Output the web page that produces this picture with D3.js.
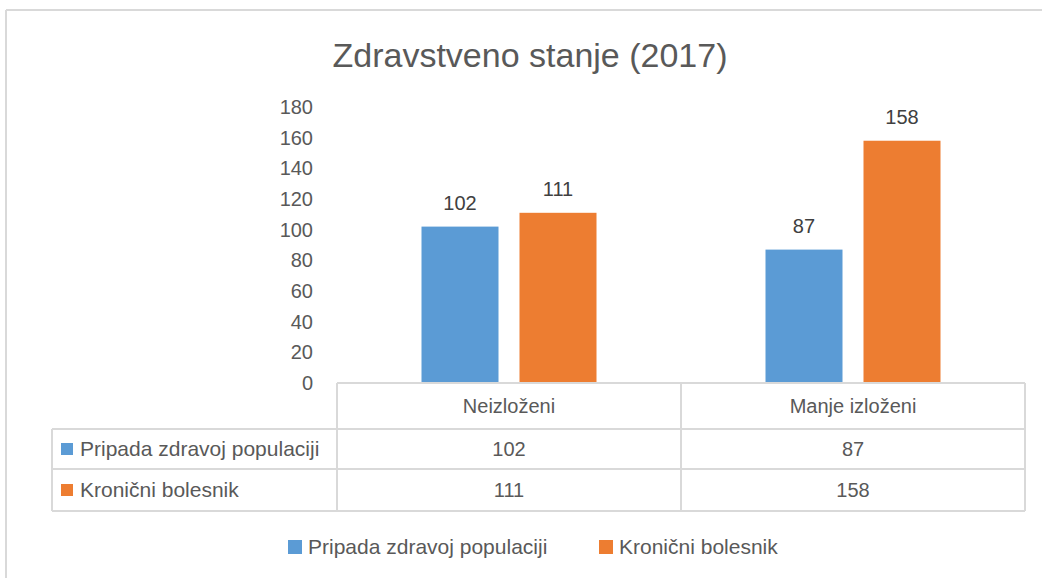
<!DOCTYPE html>
<html>
<head>
<meta charset="utf-8">
<script src="https://cdn.jsdelivr.net/npm/d3@7"></script>
<style>
  body { margin: 0; background: #fff; }
  svg text { font-family: "Liberation Sans", Arial, sans-serif; fill: #595959; }
</style>
</head>
<body>
<svg id="chart"></svg>
<script>
// chart values
var categories = ['Neizloženi', 'Manje izloženi'];
var seriesNames = ['Pripada zdravoj populaciji', 'Kronični bolesnik'];
var zdravi = [102, 87];
var kronicni = [111, 158];
var yTicks = [0, 20, 40, 60, 80, 100, 120, 140, 160, 180];

var colors = {
  'Pripada zdravoj populaciji': '#5B9BD5',
  'Kronični bolesnik': '#ED7D31'
};

var W = 1042, H = 578;
var plot = { left: 337, right: 1025, top: 107, bottom: 383 };
// table row edges
var rowY = [383, 429, 469, 511];
var tableLeft = 52;
var lineColor = '#D9D9D9';

var svg = d3.select('#chart')
  .attr('width', W)
  .attr('height', H);

// outer frame (only top and left edges are in the picture)
svg.append('line')
  .attr('x1', 6).attr('x2', W).attr('y1', 10).attr('y2', 10)
  .attr('stroke', lineColor).attr('stroke-width', 2);
svg.append('line')
  .attr('x1', 6).attr('x2', 6).attr('y1', 10).attr('y2', H)
  .attr('stroke', lineColor).attr('stroke-width', 2);

// title
svg.append('text')
  .attr('x', 530)
  .attr('y', 67)
  .attr('text-anchor', 'middle')
  .style('font-size', '34px')
  .text('Zdravstveno stanje (2017)');

var data = categories.map(function(c, i) {
  return { category: c, values: [zdravi[i], kronicni[i]] };
});

var x0 = d3.scaleBand()
  .domain(categories)
  .range([plot.left, plot.right]);

var groupW = 175;
var x1 = d3.scaleBand()
  .domain(seriesNames)
  .range([x0.bandwidth() / 2 - groupW / 2, x0.bandwidth() / 2 + groupW / 2])
  .paddingInner(0.2143);

var y = d3.scaleLinear()
  .domain([0, 180])
  .range([plot.bottom, plot.top]);

// y axis, labels only
var yAxis = svg.append('g')
  .attr('transform', 'translate(' + plot.left + ',0)')
  .call(d3.axisLeft(y).tickValues(yTicks).tickSize(0).tickPadding(24));
yAxis.select('.domain').remove();
yAxis.selectAll('text')
  .style('font-size', '20px')
  .style('font-family', '"Liberation Sans", Arial, sans-serif')
  .attr('fill', '#595959');

// bars
var groups = svg.selectAll('g.cat')
  .data(data)
  .enter()
  .append('g')
    .attr('class', 'cat')
    .attr('transform', function(d) { return 'translate(' + x0(d.category) + ',0)'; });

var bars = groups.selectAll('g.bar')
  .data(function(d) {
    return d.values.map(function(v, i) { return { name: seriesNames[i], value: v }; });
  })
  .enter()
  .append('g')
    .attr('class', 'bar');

bars.append('rect')
  .attr('x', function(d) { return x1(d.name); })
  .attr('y', function(d) { return y(d.value); })
  .attr('width', x1.bandwidth())
  .attr('height', function(d) { return y(0) - y(d.value); })
  .attr('fill', function(d) { return colors[d.name]; });

bars.append('text')
  .attr('x', function(d) { return x1(d.name) + x1.bandwidth() / 2; })
  .attr('y', function(d) { return y(d.value) - 17; })
  .attr('text-anchor', 'middle')
  .style('font-size', '20px')
  .style('fill', '#404040')
  .text(function(d) { return d.value; });

// data table
var table = svg.append('g');
function hline(x1_, x2_, yy) {
  table.append('line')
    .attr('x1', x1_).attr('x2', x2_).attr('y1', yy).attr('y2', yy)
    .attr('stroke', lineColor).attr('stroke-width', 2);
}
function vline(xx, y1_, y2_) {
  table.append('line')
    .attr('x1', xx).attr('x2', xx).attr('y1', y1_).attr('y2', y2_)
    .attr('stroke', lineColor).attr('stroke-width', 2);
}
hline(plot.left, plot.right, rowY[0]);
hline(tableLeft, plot.right, rowY[1]);
hline(tableLeft, plot.right, rowY[2]);
hline(tableLeft, plot.right, rowY[3]);
vline(tableLeft, rowY[1], rowY[3]);
categories.forEach(function(c) { vline(x0(c), rowY[0], rowY[3]); });
vline(plot.right, rowY[0], rowY[3]);

// header row
table.selectAll('text.head')
  .data(categories)
  .enter()
  .append('text')
    .attr('class', 'head')
    .attr('x', function(d) { return x0(d) + x0.bandwidth() / 2; })
    .attr('y', (rowY[0] + rowY[1]) / 2 + 7)
    .attr('text-anchor', 'middle')
    .style('font-size', '20px')
    .text(function(d) { return d; });

var seriesValues = [zdravi, kronicni];
seriesNames.forEach(function(name, si) {
  var cy = (rowY[si + 1] + rowY[si + 2]) / 2;
  table.append('rect')
    .attr('x', 61).attr('y', cy - 6)
    .attr('width', 12).attr('height', 12)
    .attr('fill', colors[name]);
  table.append('text')
    .attr('x', 80)
    .attr('y', cy + 7)
    .style('font-size', '21px')
    .text(name);
  table.selectAll('text.v' + si)
    .data(seriesValues[si])
    .enter()
    .append('text')
      .attr('class', 'v' + si)
      .attr('x', function(d, i) { return x0(categories[i]) + x0.bandwidth() / 2; })
      .attr('y', cy + 7)
      .attr('text-anchor', 'middle')
      .style('font-size', '20px')
      .text(function(d) { return d; });
});

// legend
var legendX = [288, 599];
var legend = svg.selectAll('g.legend')
  .data(seriesNames)
  .enter()
  .append('g')
    .attr('class', 'legend')
    .attr('transform', function(d, i) { return 'translate(' + legendX[i] + ',547)'; });

legend.append('rect')
  .attr('x', 0).attr('y', -7)
  .attr('width', 14).attr('height', 14)
  .attr('fill', function(d) { return colors[d]; });

legend.append('text')
  .attr('x', 20)
  .attr('y', 7)
  .style('font-size', '21px')
  .text(function(d) { return d; });
</script>
</body>
</html>
